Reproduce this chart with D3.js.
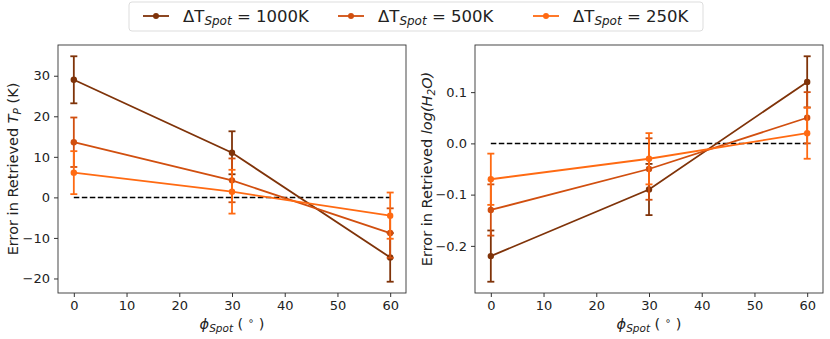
<!DOCTYPE html>
<html>
<head>
<meta charset="utf-8">
<script src="https://cdn.jsdelivr.net/npm/d3@7"></script>
<style>
  body { margin: 0; background: #fff; }
  svg { font-family: "DejaVu Sans", sans-serif; }
</style>
</head>
<body>
<div id="chart"></div>
<script>
// data
var phi = [0, 30, 60];
var seriesNames = ["1000K", "500K", "250K"];
var colors = ["#7f3309", "#d14f0f", "#ff6a12"];

// error in retrieved Tp (K)
var tpVals = [[29, 11, -14.8], [13.6, 4.2, -8.8], [6.1, 1.4, -4.5]];
var tpErrs = [[5.8, 5.3, 6.0], [6.1, 5.4, 6.1], [5.3, 5.4, 5.7]];
// error in retrieved log(H2O)
var h2oVals = [[-0.22, -0.09, 0.12], [-0.13, -0.05, 0.05], [-0.07, -0.03, 0.02]];
var h2oErrs = [[0.05, 0.05, 0.05], [0.05, 0.06, 0.05], [0.05, 0.05, 0.05]];

var xTicks = [0, 10, 20, 30, 40, 50, 60];
var tpTicks = [-20, -10, 0, 10, 20, 30];
var h2oTicks = [-0.2, -0.1, 0.0, 0.1];

var W = 830, H = 339;
var svg = d3.select("#chart").append("svg").attr("width", W).attr("height", H);

function minusFmt(f) {
  return function(d) { return f(d).replace("-", "\u2212"); };
}

function panel(left, right, vals, errs, yTicks, yFmt, yLabelFn, yLabelX) {
  var top = 45, bottom = 293;
  // matplotlib-like autoscale with 5% margins
  var lo = d3.min(vals, (v, i) => d3.min(v, (d, j) => d - errs[i][j]));
  var hi = d3.max(vals, (v, i) => d3.max(v, (d, j) => d + errs[i][j]));
  var pad = (hi - lo) * 0.05;
  var x = d3.scaleLinear().domain([-3, 63]).range([left, right]);
  var y = d3.scaleLinear().domain([lo - pad, hi + pad]).range([bottom, top]);

  var g = svg.append("g");

  // zero line
  g.append("line")
    .attr("x1", x(0)).attr("x2", x(60))
    .attr("y1", y(0)).attr("y2", y(0))
    .attr("stroke", "#000").attr("stroke-width", 1.5)
    .attr("stroke-dasharray", "5.5,2.5");

  vals.forEach(function(v, i) {
    var c = colors[i];
    var pts = phi.map((p, j) => [p, v[j], errs[i][j]]);
    g.append("path")
      .datum(pts)
      .attr("fill", "none").attr("stroke", c).attr("stroke-width", 1.8)
      .attr("d", d3.line().x(d => x(d[0])).y(d => y(d[1])));
    var eb = g.selectAll(null).data(pts).enter().append("g");
    eb.append("line")
      .attr("x1", d => x(d[0])).attr("x2", d => x(d[0]))
      .attr("y1", d => y(d[1] - d[2])).attr("y2", d => y(d[1] + d[2]))
      .attr("stroke", c).attr("stroke-width", 1.8);
    [-1, 1].forEach(function(s) {
      eb.append("line")
        .attr("x1", d => x(d[0]) - 3.5).attr("x2", d => x(d[0]) + 3.5)
        .attr("y1", d => y(d[1] + s * d[2])).attr("y2", d => y(d[1] + s * d[2]))
        .attr("stroke", c).attr("stroke-width", 1.8);
    });
    eb.append("circle")
      .attr("cx", d => x(d[0])).attr("cy", d => y(d[1]))
      .attr("r", 3.2).attr("fill", c);
  });

  // frame
  g.append("rect")
    .attr("x", left).attr("y", top)
    .attr("width", right - left).attr("height", bottom - top)
    .attr("fill", "none").attr("stroke", "#333").attr("stroke-width", 0.9);

  var xa = g.append("g").attr("transform", "translate(0," + bottom + ")")
    .call(d3.axisBottom(x).tickValues(xTicks).tickSize(4).tickPadding(4));
  var ya = g.append("g").attr("transform", "translate(" + left + ",0)")
    .call(d3.axisLeft(y).tickValues(yTicks).tickFormat(yFmt).tickSize(4).tickPadding(4));
  [xa, ya].forEach(function(a) {
    a.select(".domain").remove();
    a.selectAll("text").attr("font-size", 13).attr("fill", "#222")
      .attr("font-family", "DejaVu Sans, sans-serif");
    a.selectAll("line").attr("stroke", "#333");
  });

  // x label: phi_Spot (deg)
  var xl = g.append("text")
    .attr("x", (left + right) / 2).attr("y", 329)
    .attr("text-anchor", "middle").attr("font-size", 14.5).attr("fill", "#222");
  xl.append("tspan").attr("font-style", "italic").text("\u03d5");
  xl.append("tspan").attr("font-style", "italic").attr("font-size", 10.5).attr("dy", 3).text("Spot");
  xl.append("tspan").attr("dy", -3).text(" ( ");
  xl.append("tspan").attr("font-size", 10).attr("dy", -5).text("\u2218");
  xl.append("tspan").attr("dy", 5).text(" )");

  var yl = g.append("text")
    .attr("transform", "translate(" + yLabelX + "," + (top + bottom) / 2 + ") rotate(-90)")
    .attr("text-anchor", "middle").attr("font-size", 14.5).attr("fill", "#222");
  yLabelFn(yl);
}

panel(58, 406, tpVals, tpErrs, tpTicks, minusFmt(d3.format("d")), function(t) {
  t.append("tspan").text("Error in Retrieved ");
  t.append("tspan").attr("font-style", "italic").text("T");
  t.append("tspan").attr("font-style", "italic").attr("font-size", 10.5).attr("dy", 3).text("P");
  t.append("tspan").attr("dy", -3).text(" (K)");
}, 18);

panel(475, 823, h2oVals, h2oErrs, h2oTicks, minusFmt(d3.format(".1f")), function(t) {
  t.append("tspan").text("Error in Retrieved ");
  t.append("tspan").attr("font-style", "italic").text("log(H");
  t.append("tspan").attr("font-style", "italic").attr("font-size", 10.5).attr("dy", 3).text("2");
  t.append("tspan").attr("font-style", "italic").attr("dy", -3).text("O)");
}, 432);

// legend
var leg = svg.append("g");
leg.append("rect")
  .attr("x", 129).attr("y", 2).attr("width", 574).attr("height", 29).attr("rx", 3)
  .attr("fill", "#fff").attr("stroke", "#ddd").attr("stroke-width", 1);
var legX = [143, 338, 533];
seriesNames.forEach(function(n, i) {
  var e = leg.append("g").attr("transform", "translate(" + legX[i] + ",16)");
  e.append("line").attr("x1", 0).attr("x2", 26).attr("stroke", colors[i]).attr("stroke-width", 1.8);
  e.append("circle").attr("cx", 13).attr("r", 3).attr("fill", colors[i]);
  var t = e.append("text").attr("x", 40).attr("y", 6).attr("font-size", 16.5).attr("fill", "#222");
  t.append("tspan").text("\u0394T");
  t.append("tspan").attr("font-style", "italic").attr("font-size", 12).attr("dy", 3).text("Spot");
  t.append("tspan").attr("dy", -3).text(" = " + n);
});
</script>
</body>
</html>
